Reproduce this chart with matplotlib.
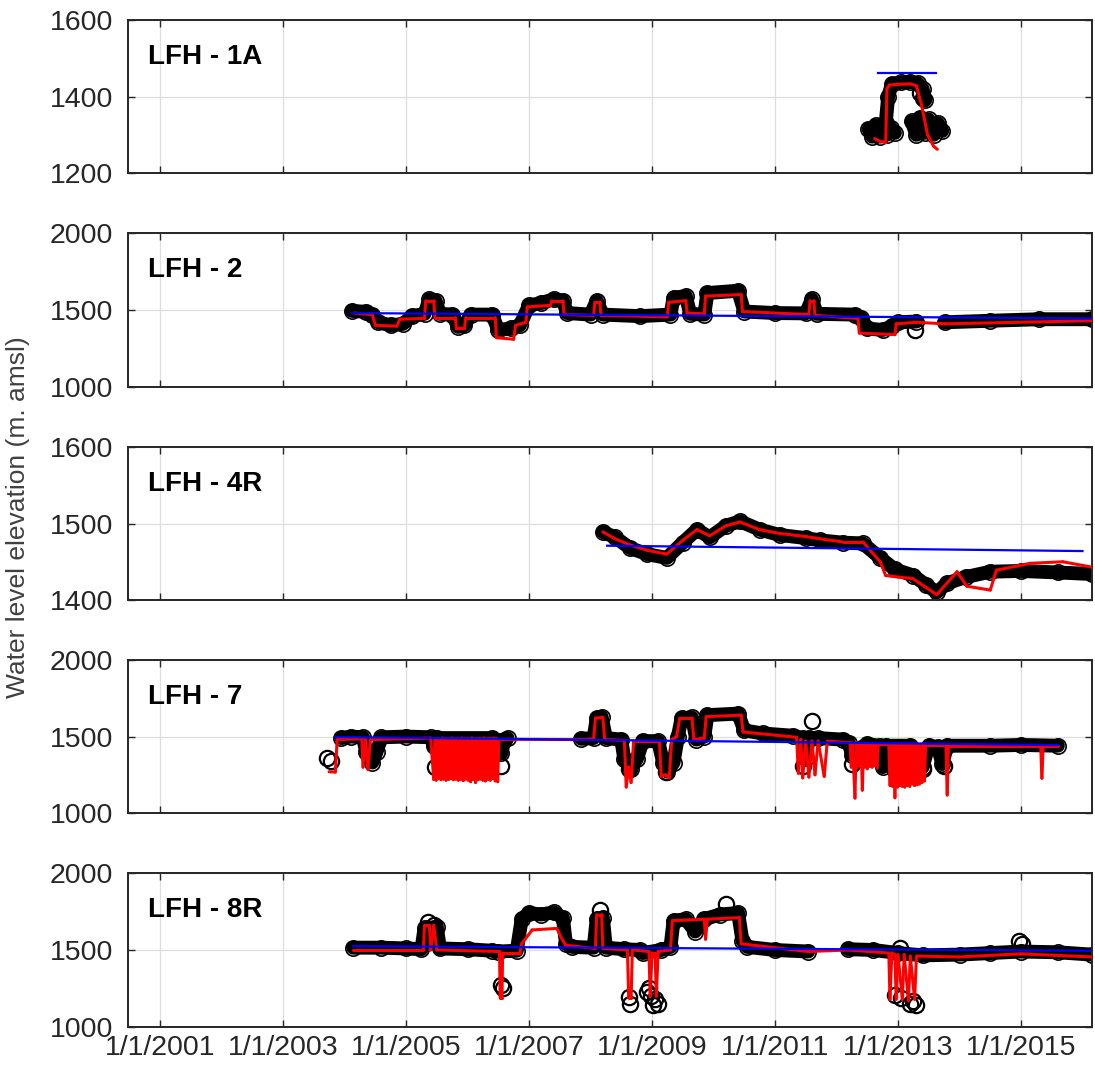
import numpy as np
import matplotlib
matplotlib.use("Agg")
import matplotlib.pyplot as plt
from matplotlib.collections import LineCollection

plt.rcParams['font.family'] = ['Liberation Sans', 'DejaVu Sans']
plt.rcParams['path.simplify'] = False

nan = np.nan

# x values are decimal years
xticks = [2001, 2003, 2005, 2007, 2009, 2011, 2013, 2015]
xticklabels = ['1/1/2001', '1/1/2003', '1/1/2005', '1/1/2007',
               '1/1/2009', '1/1/2011', '1/1/2013', '1/1/2015']

names = ['LFH - 1A', 'LFH - 2', 'LFH - 4R', 'LFH - 7', 'LFH - 8R']
ylims = [(1200, 1600), (1000, 2000), (1400, 1600), (1000, 2000), (1000, 2000)]
yticks = [[1200, 1400, 1600], [1000, 1500, 2000], [1400, 1500, 1600],
          [1000, 1500, 2000], [1000, 1500, 2000]]

# ---- LFH-1A
obs1_t = [2012.52, 2012.58, 2012.64, 2012.70, 2012.76, 2012.82, 2012.88, 2012.95, 2012.96,
          2012.80, 2012.84, 2012.90, 2013.05, 2013.20, 2013.32, 2013.40, 2013.44, 2013.45,
          2013.22, 2013.30, 2013.36, 2013.44, 2013.50, 2013.58, 2013.65, 2013.72]
obs1_v = [1315, 1295, 1325, 1295, 1320, 1300, 1318, 1305, nan,
          1330, 1400, 1432, 1437, 1438, 1435, 1420, 1390, nan,
          1335, 1300, 1345, 1305, 1340, 1300, 1330, 1310]
out1_t = [2013.40, 2013.36]
out1_v = [1395, 1410]
red1_t = [2012.62, 2012.72, 2012.80, 2012.82, 2012.86, 2013.00, 2013.20, 2013.30,
          2013.38, 2013.48, 2013.58, 2013.64]
red1_v = [1290, 1282, 1280, 1420, 1430, 1432, 1433, 1428,
          1380, 1300, 1270, 1262]
blue1_t = [2012.68, 2013.62]
blue1_v = [1461, 1461]

# ---- LFH-2
obs2_t = [2004.12, 2004.35, 2004.45, 2004.55, 2004.75, 2004.95, 2005.10, 2005.30, 2005.38,
          2005.48, 2005.55, 2005.75, 2005.85, 2005.95, 2006.05, 2006.40, 2006.50, 2006.70,
          2006.85, 2007.00, 2007.20, 2007.40, 2007.55, 2007.62, 2008.00, 2008.10, 2008.20,
          2008.80, 2009.30, 2009.35, 2009.55, 2009.62, 2009.85, 2009.90, 2010.40, 2010.50,
          2011.00, 2011.50, 2011.60, 2011.68, 2012.30, 2012.40, 2012.50, 2012.75, 2012.90,
          2013.00, 2013.30, 2013.50, 2013.76, 2014.50, 2015.30, 2016.15]
obs2_v = [1494, 1488, 1470, 1420, 1400, 1410, 1460, 1475, 1570,
          1560, 1475, 1470, 1390, 1400, 1470, 1470, 1370, 1380,
          1400, 1530, 1545, 1570, 1560, 1480, 1470, 1560, 1470,
          1460, 1470, 1580, 1590, 1475, 1470, 1610, 1625, 1490,
          1480, 1478, 1570, 1475, 1470, 1450, 1380, 1370, 1395,
          1420, 1425, nan, 1420, 1430, 1440, 1440]
out2_t = [2013.28]
out2_v = [1370]
red2_t = [2004.15, 2004.45, 2004.50, 2004.85, 2004.90, 2005.30, 2005.32, 2005.45, 2005.47,
          2005.80, 2005.82, 2005.95, 2005.97, 2006.45, 2006.47, 2006.75, 2006.78, 2006.95,
          2006.97, 2007.35, 2007.37, 2007.55, 2007.57, 2008.05, 2008.07, 2008.15, 2008.17,
          2009.25, 2009.27, 2009.55, 2009.57, 2009.85, 2009.87, 2010.45, 2010.47, 2011.55,
          2011.57, 2011.63, 2011.65, 2012.35, 2012.37, 2012.95, 2012.97, 2013.30, 2013.76,
          2016.15]
red2_v = [1480, 1470, 1400, 1395, 1440, 1445, 1560, 1560, 1450,
          1450, 1380, 1380, 1450, 1450, 1320, 1310, 1400, 1420,
          1520, 1530, 1560, 1560, 1470, 1465, 1550, 1550, 1465,
          1455, 1550, 1560, 1480, 1475, 1590, 1600, 1490, 1470,
          1560, 1560, 1465, 1445, 1350, 1340, 1410, 1420, 1410,
          1430]
blue2_t = [2004.12, 2016.15]
blue2_v = [1480, 1445]

# ---- LFH-4R
obs3_t = [2008.20, 2008.40, 2008.64, 2008.92, 2009.24, 2009.50, 2009.73, 2009.94, 2010.20,
          2010.43, 2010.75, 2011.08, 2011.50, 2011.73, 2012.10, 2012.43, 2012.71, 2012.95,
          2013.25, 2013.45, 2013.63, 2013.80, 2014.10, 2014.50, 2015.00, 2015.60, 2016.15]
obs3_v = [1489, 1482, 1468, 1460, 1455, 1475, 1492, 1482, 1497,
          1503, 1492, 1485, 1481, 1478, 1475, 1474, 1455, 1440,
          1432, 1420, 1410, 1422, 1430, 1437, 1438, 1436, 1434]
out3_t = []
out3_v = []
red3_t = [2008.20, 2008.40, 2008.64, 2008.92, 2009.24, 2009.50, 2009.73, 2009.94, 2010.20,
          2010.43, 2010.75, 2011.08, 2011.50, 2011.73, 2012.10, 2012.43, 2012.71, 2012.80,
          2013.00, 2013.24, 2013.63, 2013.96, 2014.12, 2014.50, 2014.60, 2015.15, 2015.68,
          2016.15]
red3_v = [1489, 1480, 1472, 1465, 1460, 1478, 1492, 1484, 1497,
          1502, 1492, 1487, 1483, 1480, 1476, 1476, 1450, 1432,
          1430, 1428, 1407, 1437, 1418, 1413, 1439, 1448, 1450,
          1443]
blue3_t = [2008.27, 2016.00]
blue3_v = [1471, 1464]

# ---- LFH-7
obs4_t = [2003.95, 2004.10, 2004.30, 2004.35, 2004.45, 2004.52, 2004.60, 2005.00, 2005.40,
          2005.45, 2005.50, 2006.40, 2006.50, 2006.55, 2006.60, 2006.65, 2007.20, 2007.85,
          2008.05, 2008.10, 2008.18, 2008.25, 2008.50, 2008.55, 2008.65, 2008.75, 2008.85,
          2009.10, 2009.18, 2009.25, 2009.35, 2009.42, 2009.48, 2009.65, 2009.72, 2009.85,
          2009.90, 2010.40, 2010.50, 2010.80, 2011.30, 2011.45, 2011.50, 2011.55, 2011.70,
          2012.10, 2012.20, 2012.25, 2012.35, 2012.50, 2012.70, 2012.75, 2012.80, 2013.20,
          2013.40, 2013.50, 2013.65, 2013.72, 2013.80, 2014.50, 2015.00, 2015.60]
obs4_v = [1490, 1500, 1495, 1400, 1330, 1400, 1495, 1500, 1495,
          1440, 1490, 1490, 1470, 1390, 1480, 1490, nan, 1485,
          1490, 1620, 1630, 1490, 1480, 1350, 1290, 1350, 1470,
          1470, 1330, 1270, 1330, 1500, 1620, 1625, 1480, 1500,
          1640, 1650, 1540, 1520, 1505, 1490, 1360, 1490, 1490,
          1480, 1460, 1380, 1420, 1450, 1440, 1300, 1440, 1440,
          1300, 1440, 1430, 1320, 1440, 1440, 1445, 1440]
out4_t = [2003.72, 2003.78, 2005.47, 2006.55, 2008.62, 2009.22, 2011.45, 2011.60,
          2012.25, 2012.95, 2013.15, 2013.40, 2013.75]
out4_v = [1360, 1340, 1300, 1310, 1290, 1270, 1310, 1600,
          1320, 1280, 1260, 1290, 1310]
red4a_t = [2003.75, 2003.85, 2003.88, 2004.28, 2004.30, 2004.34, 2004.38, 2004.42, 2005.40]
red4a_v = [1270, 1268, 1480, 1485, 1300, 1480, 1285, 1480, 1490]
# dense burst 2005.45 - 2006.51
burst1_t = [2005.45, 2005.47, 2005.49, 2005.51, 2005.53, 2005.55, 2005.57, 2005.59, 2005.61,
            2005.63, 2005.65, 2005.67, 2005.69, 2005.71, 2005.73, 2005.75, 2005.77, 2005.79,
            2005.81, 2005.83, 2005.85, 2005.87, 2005.89, 2005.91, 2005.93, 2005.95, 2005.97,
            2005.99, 2006.01, 2006.03, 2006.05, 2006.07, 2006.09, 2006.11, 2006.13, 2006.15,
            2006.17, 2006.19, 2006.21, 2006.23, 2006.25, 2006.27, 2006.29, 2006.31, 2006.33,
            2006.35, 2006.37, 2006.39, 2006.41, 2006.43, 2006.45, 2006.47, 2006.49, 2006.51]
burst1_v = [1220, 1485, 1215, 1488, 1225, 1486, 1218, 1490, 1222,
            1486, 1215, 1488, 1220, 1485, 1225, 1490, 1218, 1486,
            1222, 1488, 1215, 1485, 1220, 1490, 1212, 1486, 1222,
            1488, 1215, 1485, 1205, 1490, 1220, 1486, 1200, 1485,
            1218, 1488, 1222, 1486, 1215, 1490, 1210, 1485, 1220,
            1488, 1215, 1486, 1225, 1490, 1210, 1486, 1205, 1480]
red4b_t = [2006.65, 2007.85, 2008.05, 2008.08, 2008.20, 2008.23, 2008.55, 2008.58, 2008.62,
           2008.66, 2008.70, 2009.12, 2009.15, 2009.22, 2009.28, 2009.32, 2009.40, 2009.45,
           2009.65, 2009.68, 2009.85, 2009.88, 2010.45, 2010.48, 2011.35, 2011.38, 2011.42,
           2011.45, 2011.50, 2011.55, 2011.60, 2011.65, 2011.70, 2011.80, 2011.85]
red4b_v = [1482, 1480, 1485, 1620, 1625, 1480, 1475, 1170, 1300,
           1200, 1470, 1470, 1240, 1250, 1230, 1480, 1500, 1620,
           1620, 1480, 1490, 1630, 1640, 1530, 1495, 1260, 1480,
           1230, 1470, 1235, 1470, 1250, 1470, 1240, 1470]
burst2_t = [2012.22, 2012.24, 2012.26, 2012.28, 2012.30, 2012.32, 2012.34, 2012.36, 2012.38,
            2012.40, 2012.42, 2012.44, 2012.46, 2012.48, 2012.50, 2012.52, 2012.54, 2012.56,
            2012.58, 2012.60, 2012.62, 2012.64, 2012.66, 2012.68, 2012.70]
burst2_v = [1460, 1300, 1460, 1290, 1098, 1460, 1300, 1455, 1310,
            1455, 1150, 1455, 1300, 1455, 1290, 1455, 1305, 1455,
            1300, 1450, 1310, 1450, 1295, 1450, 1450]
burst3_t = [2012.85, 2012.87, 2012.89, 2012.91, 2012.93, 2012.95, 2012.97, 2012.99, 2013.01,
            2013.03, 2013.05, 2013.07, 2013.09, 2013.11, 2013.13, 2013.15, 2013.17, 2013.19,
            2013.21, 2013.23, 2013.25, 2013.27, 2013.29, 2013.31, 2013.33, 2013.35, 2013.37,
            2013.39, 2013.41, 2013.43, 2013.45, 2013.47]
burst3_v = [1450, 1180, 1450, 1175, 1450, 1100, 1450, 1170, 1450,
            1180, 1450, 1175, 1450, 1170, 1450, 1180, 1450, 1175,
            1450, 1190, 1450, 1180, 1450, 1185, 1450, 1190, 1450,
            1200, 1450, 1210, 1450, 1445]
red4c_t = [2013.78, 2013.80, 2013.82, 2015.32, 2015.34, 2015.36, 2015.60]
red4c_v = [1445, 1118, 1440, 1440, 1228, 1438, 1438]
red4_t = red4a_t + burst1_t + red4b_t + burst2_t + burst3_t + red4c_t
red4_v = red4a_v + burst1_v + red4b_v + burst2_v + burst3_v + red4c_v
blue4_t = [2003.85, 2015.60]
blue4_v = [1497, 1444]

# ---- LFH-8R
obs5_t = [2004.14, 2004.60, 2005.00, 2005.25, 2005.30, 2005.50, 2005.55, 2006.00, 2006.40,
          2006.50, 2006.80, 2006.88, 2007.00, 2007.20, 2007.40, 2007.55, 2007.60, 2007.70,
          2008.05, 2008.10, 2008.20, 2008.25, 2008.55, 2008.80, 2008.85, 2009.15, 2009.30,
          2009.35, 2009.55, 2009.70, 2009.85, 2010.10, 2010.40, 2010.47, 2010.55, 2011.00,
          2011.54, 2011.80, 2012.19, 2012.60, 2013.00, 2013.40, 2014.00, 2014.50, 2015.00,
          2015.60, 2016.15]
obs5_v = [1515, 1515, 1510, 1505, 1640, 1650, 1510, 1505, 1495,
          1490, 1495, 1700, 1740, 1730, 1745, 1710, 1540, 1520,
          1515, 1700, 1710, 1515, 1505, 1500, 1480, 1500, 1520,
          1690, 1700, 1620, 1700, 1730, 1740, 1560, 1520, 1500,
          1490, nan, 1505, 1500, 1480, 1465, 1470, 1480, 1490,
          1485, 1470]
out5_t = [2005.35, 2005.45, 2006.55, 2006.57, 2008.15, 2008.62, 2008.64, 2008.92, 2008.98,
          2009.05, 2009.10, 2008.95, 2009.02, 2012.95, 2013.05, 2013.20, 2013.30, 2013.25,
          2013.03, 2010.20, 2014.97, 2015.02]
out5_v = [1680, 1660, 1270, 1250, 1760, 1195, 1150, 1230, 1200,
          1180, 1150, 1250, 1140, 1210, 1190, 1150, 1140, 1170,
          1510, 1800, 1560, 1540]
red5_t = [2004.14, 2005.28, 2005.30, 2005.38, 2005.40, 2005.45, 2005.50, 2006.52, 2006.53,
          2006.56, 2006.57, 2006.85, 2006.88, 2007.05, 2007.45, 2007.55, 2007.60, 2008.08,
          2008.10, 2008.18, 2008.20, 2008.60, 2008.62, 2008.66, 2008.68, 2008.95, 2008.97,
          2009.00, 2009.05, 2009.07, 2009.10, 2009.30, 2009.33, 2009.85, 2009.87, 2009.90,
          2010.42, 2010.45, 2011.54, 2012.19, 2012.85, 2012.87, 2012.90, 2012.95, 2012.97,
          2013.00, 2013.07, 2013.10, 2013.17, 2013.20, 2013.27, 2013.30, 2014.00, 2015.00,
          2016.15]
red5_v = [1500, 1500, 1660, 1660, 1500, 1660, 1500, 1490, 1190,
          1190, 1480, 1480, 1540, 1630, 1640, 1560, 1530, 1510,
          1730, 1730, 1510, 1500, 1190, 1190, 1500, 1490, 1200,
          1480, 1480, 1200, 1490, 1500, 1690, 1700, 1570, 1700,
          1710, 1540, 1490, 1500, 1480, 1180, 1480, 1470, 1180,
          1470, 1180, 1470, 1170, 1460, 1180, 1460, 1455, 1475,
          1455]
blue5_t = [2004.14, 2016.15]
blue5_v = [1525, 1495]

obs_t = [obs1_t, obs2_t, obs3_t, obs4_t, obs5_t]
obs_v = [obs1_v, obs2_v, obs3_v, obs4_v, obs5_v]
out_t = [out1_t, out2_t, out3_t, out4_t, out5_t]
out_v = [out1_v, out2_v, out3_v, out4_v, out5_v]
red_t = [red1_t, red2_t, red3_t, red4_t, red5_t]
red_v = [red1_v, red2_v, red3_v, red4_v, red5_v]
blue_t = [blue1_t, blue2_t, blue3_t, blue4_t, blue5_t]
blue_v = [blue1_v, blue2_v, blue3_v, blue4_v, blue5_v]

fig = plt.figure(figsize=(10.95, 10.78), dpi=100)

# panel bottoms (figure fraction), MATLAB style stacked axes
bottoms = [0.8395, 0.641, 0.4434, 0.2458, 0.0473]
heights = [0.1419, 0.1429, 0.1419, 0.1419, 0.1429]
dark = '#262626'

for i in range(5):
    ax = fig.add_axes([0.117, bottoms[i], 0.880, heights[i]])
    ax.grid(True, color='#dedede', lw=0.9)
    ax.set_axisbelow(True)

    ax.plot(obs_t[i], obs_v[i], color='k', lw=10, solid_joinstyle='round',
            solid_capstyle='round', zorder=2)
    ax.plot(obs_t[i], obs_v[i], 'o', ms=11, mfc='none', mec='k', mew=1.2, zorder=2)
    ax.plot(out_t[i], out_v[i], 'o', ms=11, mfc='none', mec='k', mew=1.6, zorder=2)

    # red model line drawn segment by segment so dense spikes fill solid
    pts = np.column_stack([red_t[i], red_v[i]])
    segs = np.stack([pts[:-1], pts[1:]], axis=1)
    ax.add_collection(LineCollection(segs, colors='red', linewidths=2.2,
                                     capstyle='round', zorder=3))
    ax.plot(blue_t[i], blue_v[i], color='#0000ff', lw=1.6, zorder=4)

    ax.set_xlim(2000.48, 2016.15)
    ax.set_ylim(*ylims[i])
    ax.set_yticks(yticks[i])
    ax.set_xticks(xticks)
    if i == 4:
        ax.set_xticklabels(xticklabels)
    else:
        ax.set_xticklabels([])

    ax.tick_params(direction='in', top=True, right=True, length=5, width=1.0,
                   labelsize=20.5, color=dark, labelcolor=dark)
    ax.tick_params(axis='y', pad=11)
    ax.tick_params(axis='x', pad=6)
    for s in ax.spines.values():
        s.set_color(dark)
        s.set_linewidth(1.4)

    ax.text(0.021, 0.76, names[i], transform=ax.transAxes, fontsize=20,
            fontweight='bold', va='center', ha='left', color='k')

fig.text(0.016, 0.52, 'Water level elevation (m. amsl)', rotation=90,
         fontsize=19, va='center', ha='center', color='#404040')

fig.savefig('out.png', dpi=100)
